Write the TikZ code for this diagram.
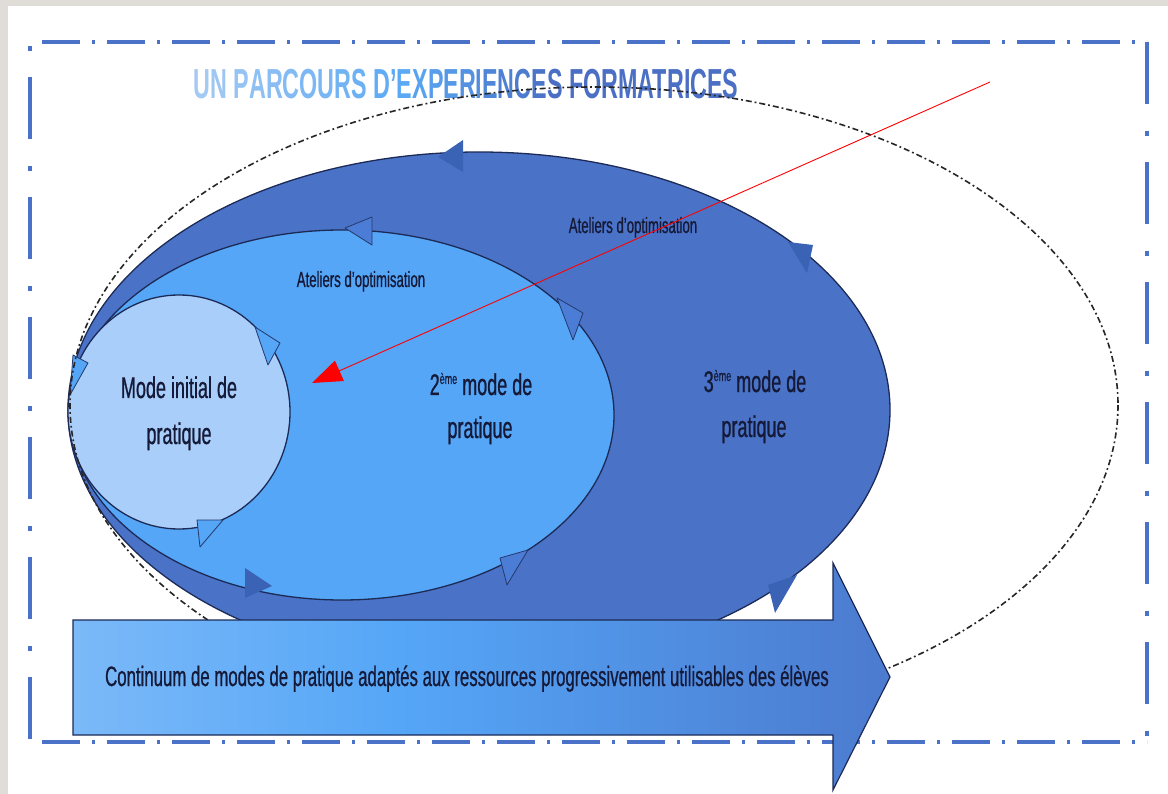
\documentclass[tikz,border=0pt]{standalone}
\usepackage{fontspec}
\setmainfont{Liberation Sans}
\newfontfamily\nar{Liberation Sans}[FakeStretch=0.6,FakeBold=0.7]
\newfontfamily\nartitle{Liberation Sans}[FakeStretch=0.555]
\usetikzlibrary{arrows.meta}
\definecolor{bggray}{HTML}{E0DDD8}
\definecolor{framec}{HTML}{4A72C8}
\definecolor{cbig}{HTML}{4A73C8}
\definecolor{cmed}{HTML}{55A6F7}
\definecolor{csmall}{HTML}{A8CEF9}
\definecolor{edge}{HTML}{1C2A55}
\definecolor{tdark}{HTML}{3A63B5}
\definecolor{tmed}{HTML}{4C7DD6}
\definecolor{txt}{HTML}{151A38}
\definecolor{ta}{HTML}{A4C9F2}
\definecolor{tb}{HTML}{5AA9F5}
\definecolor{tc}{HTML}{4A6FC4}
\definecolor{sa}{HTML}{ABD1FA}
\pgfdeclarehorizontalshading{arrsh}{100bp}{color(0bp)=(sa); color(45bp)=(cmed); color(80bp)=(cbig); color(100bp)=(cbig)}
\newcommand{\tA}[2]{\textcolor{tb!#1!ta}{#2}}
\newcommand{\tB}[2]{\textcolor{tc!#1!tb}{#2}}
\begin{document}
\begin{tikzpicture}[x=1pt,y=-1pt,
  ell/.style={draw=edge, line width=1.3pt},
  tri/.style={draw=edge!80!cbig, line width=0.8pt, line join=round},
  lbl/.style={inner sep=0pt, text=txt, anchor=base},
  hframe/.style={draw=framec, line width=4pt, dash pattern=on 38pt off 12pt on 3pt off 12pt},
  vframe/.style={draw=framec, line width=4pt, dash pattern=on 62pt off 27pt on 5pt off 26pt},
  ddell/.style={draw=black!85, line width=1.6pt, dash pattern=on 6pt off 3pt on 1.8pt off 3pt},
]
\useasboundingbox (0,0) rectangle (1168,794);
\fill[bggray] (0,0) rectangle (1168,794);
\fill[white] (8,6) rectangle (1168,794);

% frame corners
\coordinate (ftl) at (30,42);
\coordinate (ftr) at (1147,42);
\coordinate (fbl) at (30,742);
\coordinate (fbr) at (1147,742);
\draw[hframe, dash phase=53pt] (ftl) -- (ftr);
\draw[hframe, dash phase=53pt] (fbl) -- (fbr);
\draw[vframe, dash phase=85pt] (ftl) -- (fbl);
\draw[vframe] (ftr) -- (fbr);

% title
\node[inner sep=0pt, anchor=base, font=\nartitle\bfseries\fontsize{42}{42}\selectfont] (title) at (466,99)
 {\tA{0}{U}\tA{8}{N} \tA{20}{P}\tA{28}{A}\tA{36}{R}\tA{44}{C}\tA{52}{O}\tA{60}{U}\tA{68}{R}\tA{76}{S} \tA{90}{D}\tA{100}{’}\tB{0}{E}\tB{10}{X}\tB{20}{P}\tB{30}{E}\tB{40}{R}\tB{50}{I}\tB{60}{E}\tB{70}{N}\tB{80}{C}\tB{90}{E}\tB{100}{S} \textcolor{tc}{FORMATRICES}};

% ellipses
\draw[ell, fill=cbig] (479,410) ellipse [x radius=411, y radius=258];
\draw[ell, fill=cmed] (342,415) ellipse [x radius=272, y radius=185];
\draw[ell, fill=csmall] (179,412) ellipse [x radius=111, y radius=117];

% rotation marks
\fill[tdark] (463,140) -- (463,172) -- (438,157) -- cycle;
\fill[tdark] (788,242) -- (813,245) -- (807,273) -- cycle;
\fill[tdark] (768,585) -- (797,575) -- (775,613) -- cycle;
\fill[tdark] (245,568) -- (245,598) -- (272,586) -- cycle;
\filldraw[tri, fill=tmed] (372,217) -- (372,245) -- (345,228) -- cycle;
\filldraw[tri, fill=tmed] (557,298) -- (583,313) -- (573,340) -- cycle;
\filldraw[tri, fill=tmed] (500,558) -- (528,550) -- (507,585) -- cycle;
\filldraw[tri, fill=cmed] (255,327) -- (280,343) -- (268,365) -- cycle;
\filldraw[tri, fill=cmed] (197,520) -- (223,520) -- (200,547) -- cycle;
\filldraw[tri, fill=cmed] (73,355) -- (88,363) -- (70,395) -- cycle;

% labels
\node[lbl, font=\nar\fontsize{22}{22}\selectfont] (at1) at (633,233) {Ateliers d’optimisation};
\node[lbl, font=\nar\fontsize{22}{22}\selectfont] (at2) at (361,287) {Ateliers d’optimisation};
\node[lbl, font=\nar\fontsize{30}{30}\selectfont] (m1a) at (179,398) {Mode initial de};
\node[lbl, font=\nar\fontsize{30}{30}\selectfont] (m1b) at (179,444) {pratique};
\node[lbl, font=\nar\fontsize{30}{30}\selectfont] (m2a) at (481,395) {2\raisebox{11pt}{\fontsize{15}{15}\selectfont ème} mode de};
\node[lbl, font=\nar\fontsize{30}{30}\selectfont] (m2b) at (480,438) {pratique};
\node[lbl, font=\nar\fontsize{30}{30}\selectfont] (m3a) at (755,392) {3\raisebox{11pt}{\fontsize{15}{15}\selectfont ème} mode de};
\node[lbl, font=\nar\fontsize{30}{30}\selectfont] (m3b) at (754,437) {pratique};

% dash-dot ellipse
\draw[ddell] (594,405) ellipse [x radius=524, y radius=318];

% big arrow
\shade[shading=arrsh, draw=edge, line width=1.2pt]
  (73,620) -- (833,620) -- (833,563) -- (890,677) -- (833,790) -- (833,735) -- (73,735) -- cycle;
\node[lbl, font=\nar\fontsize{28}{28}\selectfont] (cont) at (467,686) {Continuum de modes de pratique adaptés aux ressources progressivement utilisables des élèves};

% red arrow
\coordinate (rs) at (990,82);
\coordinate (rt) at (312,383);
\draw[red, line width=0.9pt, -{Triangle[length=30pt,width=22pt]}] (rs) -- (rt);
\end{tikzpicture}
\end{document}
